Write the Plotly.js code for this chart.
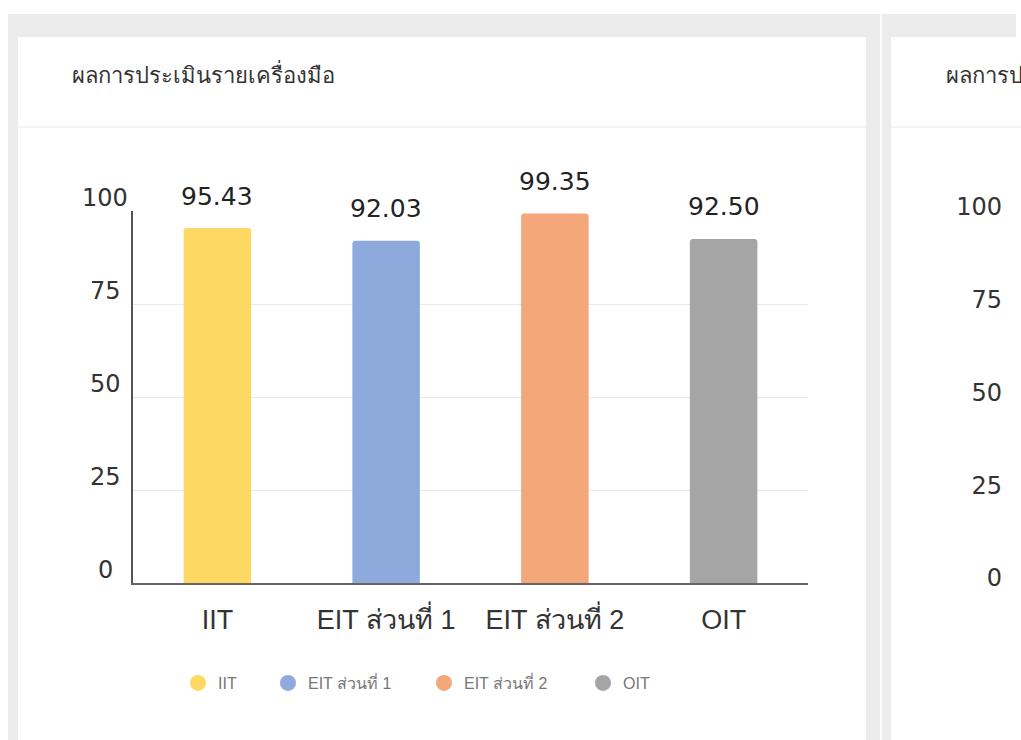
<!DOCTYPE html>
<html><head><meta charset="utf-8">
<script src="https://cdn.plot.ly/plotly-3.0.1.min.js"></script>
<style>
html,body{margin:0;padding:0;background:#fff;width:1021px;height:740px;overflow:hidden;}
#bg{position:absolute;left:8px;top:14px;width:1008px;height:726px;background:#ececec;}
#card1{position:absolute;left:18px;top:37px;width:848px;height:703px;background:#fff;}
#sep{position:absolute;left:880px;top:14px;width:2px;height:726px;background:#fbfbfb;}
#card2{position:absolute;left:891px;top:37px;width:130px;height:703px;background:#fff;overflow:hidden;}
.hdr{position:absolute;left:0;top:89px;height:2px;background:#f3f3f3;}
#chart1{position:absolute;left:0;top:0;width:848px;height:703px;}
#chart2{position:absolute;left:0;top:0;width:400px;height:703px;}
</style></head>
<body>
<div id="bg"></div>
<div id="sep"></div>
<div id="card1"><div class="hdr" style="width:848px"></div><div id="chart1"></div></div>
<div id="card2"><div class="hdr" style="width:130px"></div><div id="chart2"></div></div>
<script>
const chartTitle = "ผลการประเมินรายเครื่องมือ";
const categories = ["IIT", "EIT ส่วนที่ 1", "EIT ส่วนที่ 2", "OIT"];
const scores = [95.43, 92.03, 99.35, 92.50];
const scoreLabels = ["95.43", "92.03", "99.35", "92.50"];
const barColors = ["#FDD862", "#8EAADC", "#F4A77A", "#A5A5A5"];
const yTicks = [0, 25, 50, 75, 100];
const yTickLabels = ["0", "25", "50", "75", "100"];

const legendNames = ["legend", "legend2", "legend3", "legend4"];
const legendX = [45, 135, 291, 450];   // pixel offsets from plot left edge

const traces = [{
  type: "bar", x: categories, y: scores, width: 0.4,
  marker: {color: barColors, cornerradius: 3, line: {width: 0}},
  showlegend: false, hoverinfo: "skip"
}];
categories.forEach((c, i) => traces.push({
  type: "scatter", mode: "markers", x: [null], y: [null], name: c, legend: legendNames[i],
  marker: {color: barColors[i], size: 16, symbol: "circle"}, hoverinfo: "skip"
}));

const annotations = [];
categories.forEach((c, i) => annotations.push({
  x: c, y: scores[i], xref: "x", yref: "y", text: scoreLabels[i], showarrow: false,
  yanchor: "middle", yshift: 32, font: {family: "DejaVu Sans", size: 25, color: "#222"}
}));
yTicks.forEach((t, i) => annotations.push({
  x: 0, y: t, xref: "paper", yref: "y", text: yTickLabels[i], showarrow: false,
  xanchor: "center", xshift: -28, yanchor: "middle", yshift: 13,
  font: {family: "DejaVu Sans", size: 24, color: "#333"}
}));

const layout = {
  width: 848, height: 703,
  margin: {l: 115, r: 58, t: 174, b: 157},
  paper_bgcolor: "rgba(0,0,0,0)", plot_bgcolor: "rgba(0,0,0,0)",
  title: {text: chartTitle, x: 54/848, xanchor: "left", xref: "container",
          y: 1 - 38/703, yanchor: "middle", yref: "container",
          font: {family: "Liberation Sans Narrow, Noto Sans", size: 22, color: "#333"}},
  bargap: 0.6,
  xaxis: {type: "category", showgrid: false, showline: true, linecolor: "#666", linewidth: 1.5,
          ticks: "", tickfont: {family: "Liberation Sans", size: 27, color: "#333"}, ticklabelstandoff: 12},
  yaxis: {range: [0, 100], tickvals: yTicks, showticklabels: false, showgrid: true, gridcolor: "#e9e9e9",
          gridwidth: 1, showline: true, linecolor: "#555", linewidth: 2, zeroline: false, fixedrange: true},
  showlegend: true,
  annotations: annotations
};
legendNames.forEach((ln, i) => {
  layout[ln] = {orientation: "h", x: legendX[i]/675, xanchor: "left", y: -100/372, yanchor: "middle",
                font: {family: "Liberation Sans", size: 16, color: "#777"}, bgcolor: "rgba(0,0,0,0)"};
});
Plotly.newPlot("chart1", traces, layout, {displayModeBar: false, staticPlot: true});

const layout2 = {
  width: 400, height: 703,
  margin: {l: 112, r: 20, t: 170, b: 162},
  paper_bgcolor: "rgba(0,0,0,0)", plot_bgcolor: "rgba(0,0,0,0)",
  title: {text: chartTitle, x: 55/400, xanchor: "left", xref: "container",
          y: 1 - 38/703, yanchor: "middle", yref: "container",
          font: {family: "Liberation Sans Narrow, Noto Sans", size: 22, color: "#333"}},
  xaxis: {visible: false, range: [0, 1]},
  yaxis: {range: [0, 100], tickvals: yTicks, ticktext: yTickLabels, showgrid: false, zeroline: false,
          showline: false, tickfont: {family: "DejaVu Sans", size: 24, color: "#333"}},
  showlegend: false
};
Plotly.newPlot("chart2", [], layout2, {displayModeBar: false, staticPlot: true});
</script>
</body></html>
